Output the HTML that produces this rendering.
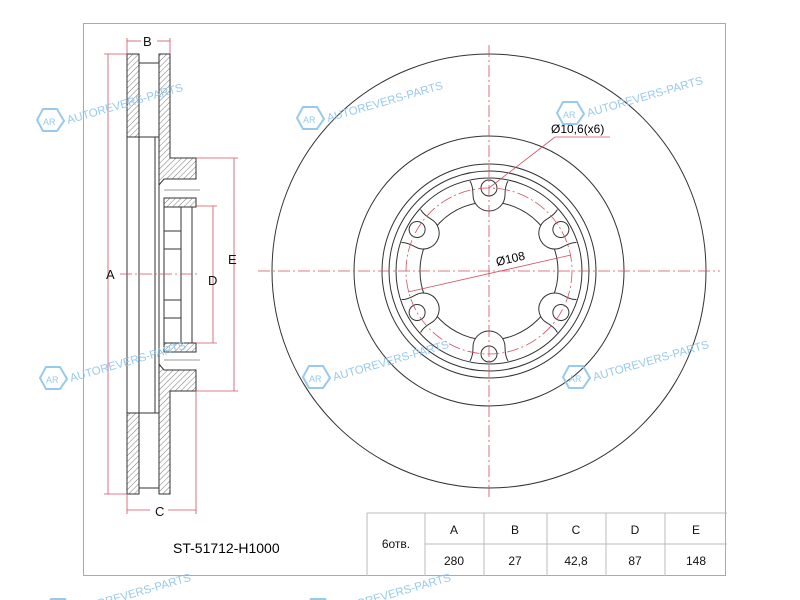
<!DOCTYPE html><html><head><style>body{margin:0;background:#fff}svg{display:block}text{font-family:"Liberation Sans",sans-serif}</style></head><body>
<svg width="800" height="600" viewBox="0 0 800 600" xmlns="http://www.w3.org/2000/svg">
<defs>
<pattern id="h" width="4" height="4" patternUnits="userSpaceOnUse" patternTransform="rotate(45)"><line x1="0" y1="0" x2="0" y2="4" stroke="#555" stroke-width="0.8"/></pattern>
<g id="wm"><g fill="none" stroke="#8cc4ea" stroke-width="2"><polygon points="-9,-8 5,-8 12,4 5,14 -9,14 -15,3" transform="translate(0,-3)"/></g><text x="-9" y="5" font-size="9" fill="#8cc4ea">AR</text><text x="15" y="4" font-size="11.5" fill="#8cc4ea" transform="rotate(-16 15 0)">AUTOREVERS-PARTS</text></g>
</defs>
<rect x="83.5" y="23.5" width="642" height="552" fill="none" stroke="#aaa"/>
<g fill="none" stroke="#333" stroke-width="1">
<circle cx="489" cy="271" r="217"/>
<circle cx="489" cy="271" r="135"/>
<circle cx="489" cy="271" r="107"/>
<circle cx="489" cy="271" r="100"/>
<circle cx="489" cy="271" r="93"/>
<circle cx="489" cy="271" r="69"/>
</g>
<g fill="none" stroke="#333" stroke-width="1">
<g id="boss"><path d="M470,181 Q473,186 473,195 A16,16 0 0 0 505,195 Q505,186 508,181" fill="#fff"/><circle cx="489" cy="188" r="8"/></g>
<use href="#boss" transform="rotate(60 489 271)"/><use href="#boss" transform="rotate(120 489 271)"/><use href="#boss" transform="rotate(180 489 271)"/><use href="#boss" transform="rotate(240 489 271)"/><use href="#boss" transform="rotate(300 489 271)"/>
</g>
<g stroke="#d05060" stroke-width="0.8" fill="none" stroke-dasharray="12,3,2,3">
<circle cx="489" cy="271" r="83"/>
<line x1="489" y1="45" x2="489" y2="500"/>
<line x1="258" y1="271" x2="720" y2="271"/>
</g>
<g stroke="#d05060" stroke-width="0.8" fill="none"><line x1="408" y1="292" x2="571" y2="255"/><line x1="489" y1="188" x2="555" y2="137"/><line x1="555" y1="137" x2="610" y2="137"/></g>
<text x="497" y="266" font-size="12" transform="rotate(-13 497 266)">Ø108</text>
<text x="551" y="133" font-size="12">Ø10,6(x6)</text>
<g stroke="#333" stroke-width="1" fill="url(#h)">
<rect x="127" y="54" width="12" height="83"/><rect x="127" y="413" width="12" height="81"/>
<path d="M159,54 H170 V158 H196 V179 H164 L159,185 Z"/>
<path d="M159,494 H170 V391 H196 V370 H164 L159,364 Z"/>
<rect x="164" y="198" width="32" height="9"/><rect x="164" y="343" width="32" height="9"/>
</g>
<g stroke="#333" stroke-width="1" fill="none">
<line x1="127" y1="137" x2="127" y2="413"/><line x1="139" y1="137" x2="139" y2="413"/>
<line x1="139" y1="63" x2="159" y2="63"/><line x1="139" y1="137" x2="159" y2="137"/>
<line x1="139" y1="413" x2="159" y2="413"/><line x1="139" y1="488" x2="159" y2="488"/>
<line x1="155" y1="137" x2="155" y2="413"/><line x1="159" y1="185" x2="159" y2="364"/>
<line x1="164" y1="207" x2="164" y2="343"/><line x1="181" y1="207" x2="181" y2="343"/><line x1="192" y1="207" x2="192" y2="343"/>
<line x1="164" y1="231" x2="181" y2="231"/><line x1="164" y1="249" x2="181" y2="249"/><line x1="164" y1="300" x2="181" y2="300"/><line x1="164" y1="318" x2="181" y2="318"/>
<line x1="164" y1="190" x2="200" y2="190" stroke-width="0.5"/><line x1="164" y1="360" x2="200" y2="360" stroke-width="0.5"/>
</g>
<line x1="120" y1="274" x2="200" y2="274" stroke="#d05060" stroke-width="0.8" stroke-dasharray="12,3,2,3"/>
<g stroke="#d05060" stroke-width="0.8" fill="none">
<line x1="108" y1="54" x2="108" y2="494"/><line x1="104" y1="54" x2="127" y2="54"/><line x1="104" y1="494" x2="127" y2="494"/>
<line x1="127" y1="41" x2="141" y2="41"/><line x1="157" y1="41" x2="170" y2="41"/><line x1="127" y1="38" x2="127" y2="54"/><line x1="170" y1="38" x2="170" y2="54"/>
<line x1="127" y1="510" x2="150" y2="510"/><line x1="168" y1="510" x2="196" y2="510"/><line x1="127" y1="494" x2="127" y2="514"/><line x1="196" y1="391" x2="196" y2="514"/>
<line x1="213" y1="206" x2="213" y2="343"/><line x1="196" y1="206" x2="217" y2="206"/><line x1="196" y1="343" x2="217" y2="343"/>
<line x1="234" y1="158" x2="234" y2="391"/><line x1="196" y1="158" x2="238" y2="158"/><line x1="196" y1="391" x2="238" y2="391"/>
</g>
<g font-size="13" fill="#111"><text x="106" y="279">A</text><text x="143" y="46">B</text><text x="155" y="516">C</text><text x="208" y="285">D</text><text x="228" y="264">E</text></g>
<text x="173" y="553" font-size="14">ST-51712-H1000</text>
<g stroke="#bbb" fill="none"><path d="M367,513 H727 M425,544 H727 M367,513 V576 M425,513 V576 M484,513 V576 M547,513 V576 M606,513 V576 M665,513 V576"/></g>
<g font-size="12" text-anchor="middle" fill="#111"><text x="396" y="548">6отв.</text>
<text x="454" y="534">A</text><text x="515" y="534">B</text><text x="576" y="534">C</text><text x="635" y="534">D</text><text x="696" y="534">E</text>
<text x="454" y="565">280</text><text x="515" y="565">27</text><text x="576" y="565">42,8</text><text x="635" y="565">87</text><text x="696" y="565">148</text></g>
<g opacity="0.9"><use href="#wm" x="52" y="120"/><use href="#wm" x="312" y="118"/><use href="#wm" x="572" y="113"/><use href="#wm" x="55" y="378"/><use href="#wm" x="318" y="377"/><use href="#wm" x="578" y="377"/><use href="#wm" x="60" y="610"/><use href="#wm" x="320" y="610"/></g>
</svg></body></html>
